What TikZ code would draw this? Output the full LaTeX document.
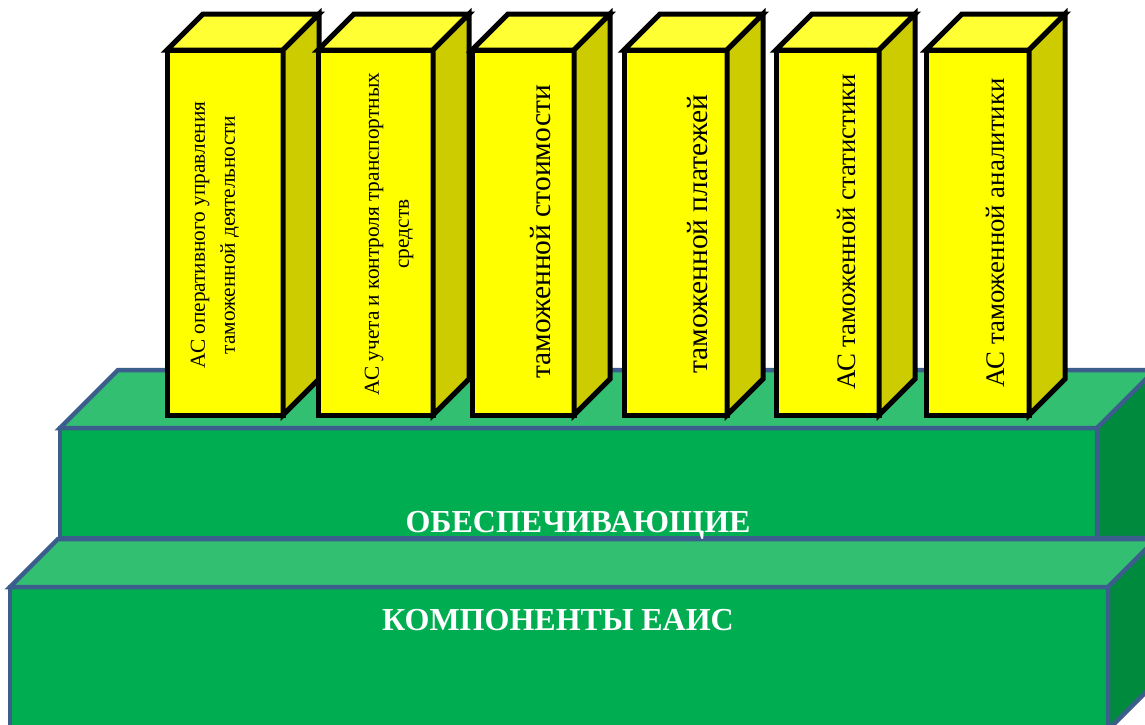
\documentclass[tikz,border=0pt]{standalone}
\usepackage{fontspec}
\setmainfont{Liberation Serif}
\usepackage{xcolor}
\usepackage{tikz}
\definecolor{slabfront}{RGB}{0,173,80}
\definecolor{slabtop}{RGB}{51,191,114}
\definecolor{slabside}{RGB}{0,138,62}
\definecolor{slabline}{RGB}{60,94,140}
\definecolor{boxfront}{RGB}{255,255,0}
\definecolor{boxtop}{RGB}{255,255,51}
\definecolor{boxside}{RGB}{204,204,0}

\begin{document}
\begin{tikzpicture}[x=1pt,y=-1pt,
  slab/.style={draw=slabline,line width=4.5pt},
  block/.style={draw=black,line width=5pt},
  label/.style={rotate=90,align=center,inner sep=0pt},
  small/.style={font=\fontsize{21.3}{30}\selectfont},
  large/.style={font=\fontsize{29.5}{32}\selectfont},
  medium/.style={font=\fontsize{26.8}{32}\selectfont},
  title/.style={text=white,anchor=base,font=\bfseries\fontsize{32}{38}\selectfont}]
\useasboundingbox (0,0) rectangle (1145,724);
\clip (0,0) rectangle (1145,724);
\filldraw[slab,fill=slabfront] (60,428) rectangle (1097,538);
\filldraw[slab,fill=slabtop] (60,428) -- (118,370) -- (1170,370) -- (1097,428) -- cycle;
\filldraw[slab,fill=slabside] (1097,428) -- (1155,370) -- (1155,538) -- (1097,538) -- cycle;
\filldraw[slab,fill=slabfront] (10,587) rectangle (1108,730);
\filldraw[slab,fill=slabtop] (10,587) -- (58,539) -- (1170,539) -- (1108,587) -- cycle;
\filldraw[slab,fill=slabside] (1108,587) -- (1155,540) -- (1155,683) -- (1108,730) -- cycle;
\foreach \l/\r in {167/283,318/433,472/574,624/727,776/879,926/1029}{
  \filldraw[block,fill=boxfront] (\l,50) rectangle (\r,415);
  \filldraw[block,fill=boxtop] (\l,50) -- (\l+36,14) -- (\r+36,14) -- (\r,50) -- cycle;
  \filldraw[block,fill=boxside] (\r,50) -- (\r+36,14) -- (\r+36,379) -- (\r,415) -- cycle;
}
\node[label,small] (oper) at (215,235) {АС оперативного управления\\таможенной деятельности};
\node[label,small] (trans) at (389,234) {АС учета и контроля транспортных\\средств};
\node[label,large] (cost) at (541,232) {таможенной стоимости};
\node[label,large] (pay) at (698,234) {таможенной платежей};
\node[label,medium] (stat) at (846,232) {АС таможенной статистики};
\node[label,medium] (anal) at (995,233) {АС таможенной аналитики};
\node[title] (supp) at (578,532) {ОБЕСПЕЧИВАЮЩИЕ};
\node[title] (comp) at (558,630) {КОМПОНЕНТЫ ЕАИС};
\end{tikzpicture}
\end{document}
